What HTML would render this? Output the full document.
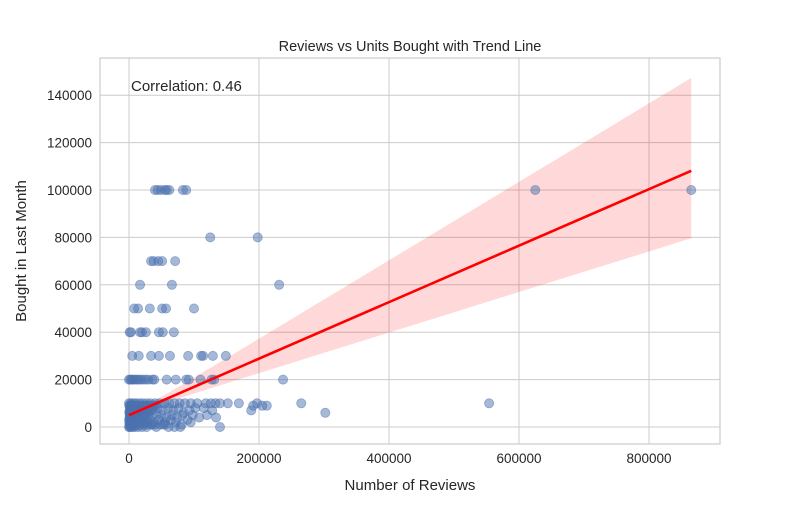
<!DOCTYPE html>
<html><head><meta charset="utf-8"><style>
body{margin:0;background:#fff;font-family:"Liberation Sans","DejaVu Sans",sans-serif}
svg text{font-family:"Liberation Sans","DejaVu Sans",sans-serif;fill:#262626}
</style></head><body>
<svg id="chart" width="800" height="500" viewBox="0 0 800 500" xmlns="http://www.w3.org/2000/svg">
<rect width="800" height="500" fill="#fff"/>
<g id="grid"></g><g id="band"></g><g id="pts"></g><g id="trend"></g><g id="axes"></g>
<text x="410" y="51" font-size="14.5" text-anchor="middle">Reviews vs Units Bought with Trend Line</text>
<text x="410" y="490" font-size="15" text-anchor="middle">Number of Reviews</text>
<text transform="translate(26,251) rotate(-90)" font-size="15" text-anchor="middle">Bought in Last Month</text>
<text x="131" y="91" font-size="15">Correlation: 0.46</text>
</svg>
<script>
const xTicks=[0,200000,400000,600000,800000];
const yTicks=[0,20000,40000,60000,80000,100000,120000,140000];
const reviews=[40000,44000,49000,55000,58000,62000,83000,88000,125000,198000,
34000,38000,45000,51000,71000,17000,66000,231000,8000,14000,32000,51000,57000,100000,
1000,3000,17000,20000,26000,46000,52000,69000,5000,15000,34000,46000,63000,91000,111000,114000,129000,149000,
0,2000,4000,6000,9000,12000,15000,18000,22000,26000,30000,36000,39000,58000,72000,88000,92000,110000,127000,131000,237000,
0,3000,7000,11000,16000,21000,27000,33000,40000,47000,55000,62000,70000,78000,86000,95000,105000,118000,126000,133000,140000,152000,169000,191000,197000,212000,265000,554000,625000,865000,
2000,5000,9000,13000,18000,24000,30000,37000,44000,52000,60000,68000,76000,84000,93000,102000,115000,128000,188000,205000,302000,
1000,4000,8000,12000,17000,23000,29000,36000,43000,50000,58000,66000,74000,82000,90000,98000,108000,120000,134000,
0,2000,5000,8000,11000,15000,19000,24000,31000,38000,46000,55000,64000,72000,81000,95000,140000,
0,1000,3000,6000,9000,14000,20000,27000,35000,42000,53000,61000,70000,79000,
500,1500,2500,4000,6000,8000,10000,12000,500,1500,3000,5000,7000,500,2000,4000,
1000,3000,5000,7000,9000,11000,14000,17000,20000,23000,26000,29000,32000,35000,38000,41000,
1000,3000,5000,7000,9000,11000,14000,17000,20000,23000,26000,29000,32000,35000,
1000,3000,5000,7000,9000,11000,14000,17000,20000,23000,26000,29000,
1000,3000,5000,7000,9000,11000,14000,17000,20000,23000,
1000,3000,5000,7000,9000,11000,14000,17000,20000,24000,28000,
2000,6000,10000,16000,22000,28000,34000,40000,48000,56000];
const bought=[100000,100000,100000,100000,100000,100000,100000,100000,80000,80000,
70000,70000,70000,70000,70000,60000,60000,60000,50000,50000,50000,50000,50000,50000,
40000,40000,40000,40000,40000,40000,40000,40000,30000,30000,30000,30000,30000,30000,30000,30000,30000,30000,
20000,20000,20000,20000,20000,20000,20000,20000,20000,20000,20000,20000,20000,20000,20000,20000,20000,20000,20000,20000,20000,
10000,10000,10000,10000,10000,10000,10000,10000,10000,10000,10000,10000,10000,10000,10000,10000,10000,10000,10000,10000,10000,10000,10000,9000,10000,9000,10000,10000,100000,100000,
8000,8000,8000,8000,8000,8000,8000,8000,8000,7000,8000,7000,8000,6000,7000,8000,8000,7000,7000,9000,6000,
5000,5000,5000,5000,5000,5000,5000,5000,5000,5000,4000,5000,4000,5000,3000,5000,4000,5000,4000,
3000,3000,3000,3000,3000,3000,3000,3000,3000,2000,3000,2000,3000,2000,1000,2000,0,
0,0,0,0,0,0,0,0,1000,0,1000,0,0,0,
6000,4000,2000,9000,1000,6000,2000,7000,9000,7000,6000,9000,4000,1500,500,3000,
9000,9000,9000,9000,9000,9000,9000,9000,9000,9000,9000,9000,9000,9000,9000,9000,
7000,7000,7000,7000,7000,7000,7000,7000,7000,7000,7000,7000,7000,7000,
6000,6000,6000,6000,6000,6000,6000,6000,6000,6000,6000,6000,
4000,4000,4000,4000,4000,4000,4000,4000,4000,4000,
2000,2000,2000,2000,2000,2000,2000,2000,2000,2000,2000,
1000,1000,1000,1000,1000,1000,1000,1000,1000,1000];
const trendIntercept=5000, trendSlope=0.1192, ciMin=1000, ciMax=33500;
const X0=129, XS=130/200000, Y0=427, YS=47.4/20000;
const sx=v=>X0+v*XS, sy=v=>Y0-v*YS;
const NS="http://www.w3.org/2000/svg";
function mk(t,a,p){const e=document.createElementNS(NS,t);for(const k in a)e.setAttribute(k,a[k]);p.appendChild(e);return e;}
const grid=document.getElementById('grid'),axes=document.getElementById('axes');
xTicks.forEach(v=>{
 const l=mk('line',{x1:sx(v),x2:sx(v),y1:58,y2:444,stroke:'#cccccc','stroke-width':1},grid);
 
 
 const t=mk('text',{x:sx(v),y:463,'font-size':13.5,'text-anchor':'middle'},axes);t.textContent=v;
 
 
});
yTicks.forEach(v=>{
 const l=mk('line',{x1:100,x2:720,y1:sy(v),y2:sy(v),stroke:'#cccccc','stroke-width':1},grid);
 
 
 const t=mk('text',{x:92,y:sy(v)+5,'font-size':13.5,'text-anchor':'end'},axes);t.textContent=v;
 
 
});
const fr=mk('rect',{x:100,y:58,width:620,height:386,fill:'none',stroke:'#cccccc','stroke-width':1.2},axes);


const pts=document.getElementById('pts');
reviews.forEach((r,i)=>{
 const c=mk('circle',{cx:sx(r),cy:sy(bought[i]),r:4.6,fill:'#4c72b0','fill-opacity':0.5,stroke:'#4c72b0','stroke-opacity':0.5,'stroke-width':0.8},pts);
 
 
});
const xmin=0,xmax=865000,xm=20000;
const up=[],lo=[];
for(let k=0;k<=40;k++){const x=xmin+(xmax-xmin)*k/40;const yv=trendIntercept+trendSlope*x;
 const hw=Math.sqrt(ciMin*ciMin+Math.pow(ciMax*(x-xm)/(xmax-xm),2));
 up.push(sx(x)+','+sy(yv+hw*1.17));lo.unshift(sx(x)+','+sy(yv-hw*0.85));}
const band=mk('polygon',{points:up.concat(lo).join(' '),fill:'#ff0000','fill-opacity':0.15},document.getElementById('band'));


const tl=mk('line',{x1:sx(xmin),y1:sy(trendIntercept),x2:sx(xmax),y2:sy(trendIntercept+trendSlope*xmax),stroke:'#ff0000','stroke-width':2.6},document.getElementById('trend'));


</script>
</body></html>
